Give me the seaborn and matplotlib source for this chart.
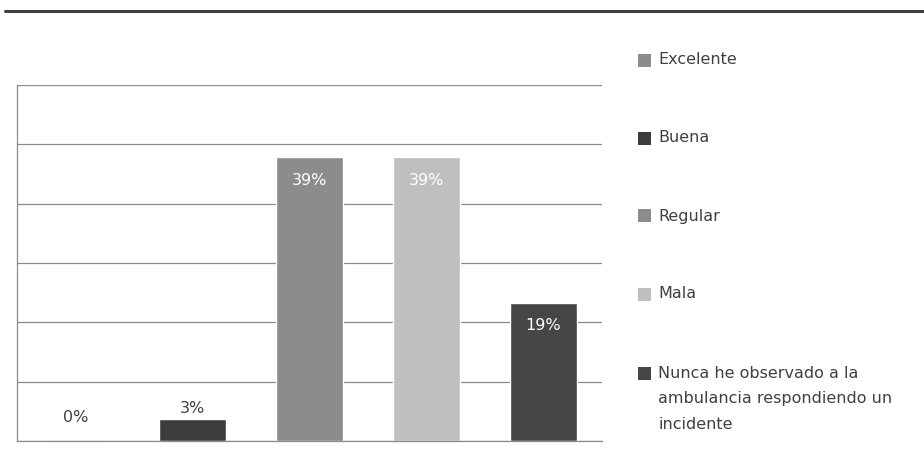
import matplotlib
matplotlib.use("Agg")
import matplotlib.pyplot as plt
from matplotlib.patches import Rectangle
from matplotlib.lines import Line2D
import seaborn as sns
import pandas as pd
import numpy as np

# Survey answers and their shares (percent)
categories = [
    "Excelente",
    "Buena",
    "Regular",
    "Mala",
    "Nunca he observado a la\nambulancia respondiendo un\nincidente",
]
values = [0, 3, 39, 39, 19]
value_labels = ["0%", "3%", "39%", "39%", "19%"]
colors = ["#8c8c8c", "#3c3c3c", "#8c8c8c", "#bfbfbf", "#464646"]

W, H = 924, 470
sns.set_theme(style="white")
plt.rcParams["font.family"] = ["DejaVu Sans"]
text_color = "#404040"
fs = 11.5

fig = plt.figure(figsize=(W / 100, H / 100), dpi=100)
ax = fig.add_axes([17 / W, 29 / H, 585 / W, 356 / H])

df = pd.DataFrame({"cat": categories, "val": values})
sns.barplot(data=df, x="cat", y="val", hue="cat", palette=colors,
            saturation=1, width=0.565, legend=False, ax=ax, zorder=2)

ymax = 48.9
ax.set_ylim(0, ymax)
ax.set_yticks(np.linspace(0, ymax, 7))
ax.yaxis.grid(True, color="#8a8a8a", linewidth=0.9)
ax.set_axisbelow(True)
ax.set_xticks([])
ax.set_yticklabels([])
ax.tick_params(left=False, bottom=False)
ax.set_xlabel("")
ax.set_ylabel("")
for side in ["top", "right"]:
    ax.spines[side].set_visible(False)
for side in ["left", "bottom"]:
    ax.spines[side].set_color("#8a8a8a")
    ax.spines[side].set_linewidth(0.9)

# Value labels: inside the top for tall bars, above for short ones
for i, (v, lab) in enumerate(zip(values, value_labels)):
    if v >= 10:
        ax.text(i, v - 3.2, lab, ha="center", va="center", color="white", fontsize=fs)
    else:
        ax.text(i, max(v + 1.5, 3.2), lab, ha="center", va="center",
                color=text_color, fontsize=fs)

# Rule across the top of the figure
fig.add_artist(Line2D([5 / W, 1], [1 - 11 / H, 1 - 11 / H], transform=fig.transFigure,
                      color="#404040", linewidth=2.2))

# Legend on the right
first_centers = [60, 138, 216, 294, 373]
line_h = 26
for cat, col, yc in zip(categories, colors, first_centers):
    fig.add_artist(Rectangle((638 / W, 1 - (yc + 6.5) / H), 13 / W, 13 / H,
                             transform=fig.transFigure, facecolor=col, edgecolor="none"))
    n = cat.count("\n")
    yc_text = yc + n * line_h / 2
    fig.text(658 / W, 1 - yc_text / H, cat, ha="left", va="center", color=text_color,
             fontsize=fs, linespacing=1.85)

fig.savefig("out.png", dpi=100)
